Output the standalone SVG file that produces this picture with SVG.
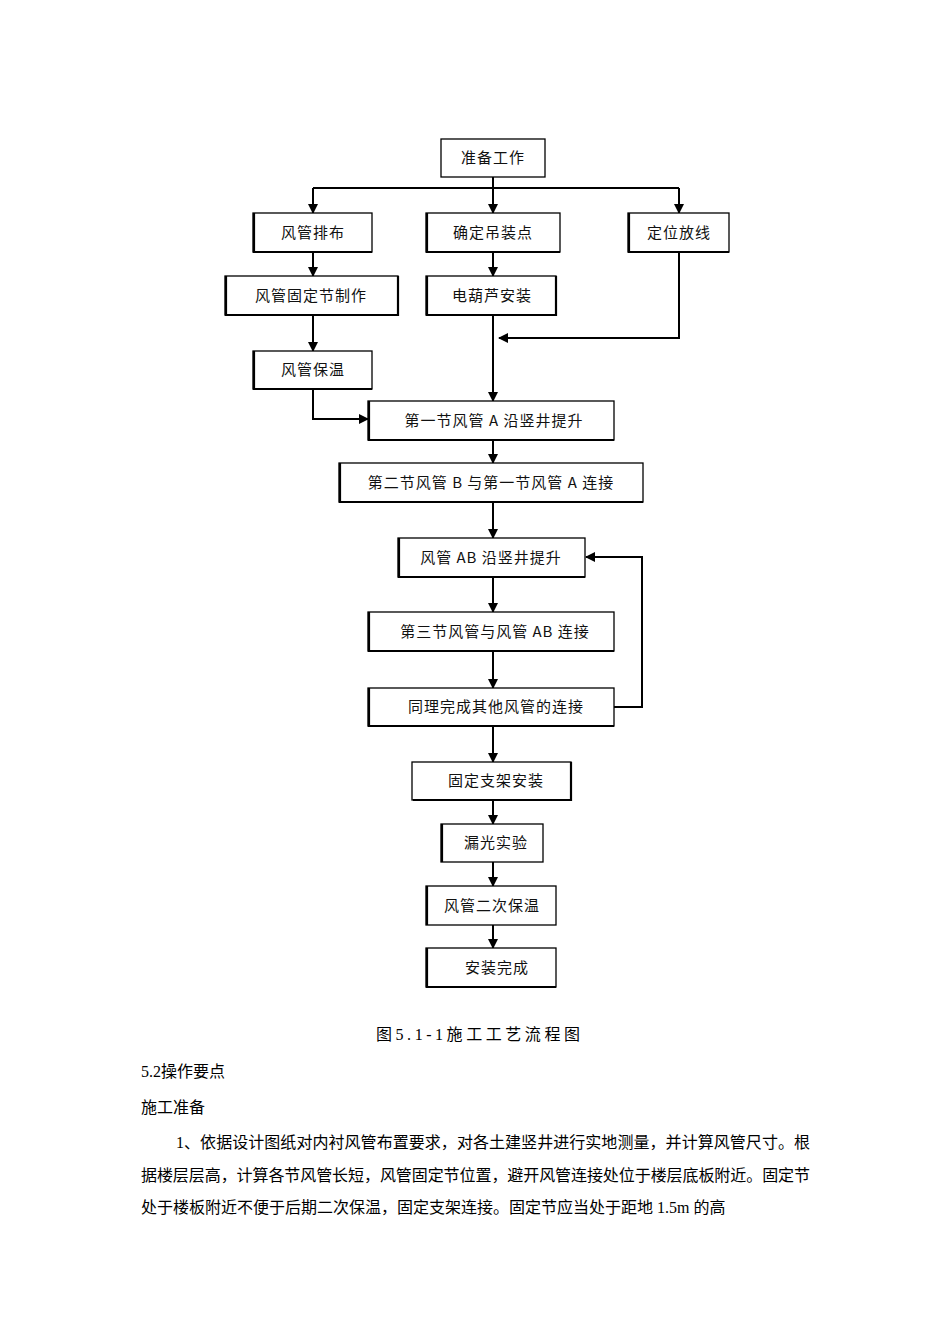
<svg xmlns="http://www.w3.org/2000/svg" width="950" height="1344" viewBox="0 0 950 1344">
<defs>
<style>
.b{fill:#fff;stroke:#000;stroke-width:1.3}
.s{fill:none;stroke:#000;stroke-width:2.2}
.t{font-family:"Noto Sans CJK SC","Noto Sans CJK JP",sans-serif;font-size:15px;text-anchor:middle;fill:#111;letter-spacing:1px}
.c{fill:none;stroke:#000;stroke-width:2}
.p{font-family:"Liberation Serif","Noto Sans CJK SC",serif;font-size:16px;fill:#000}
</style>
<marker id="a" viewBox="0 0 10 10" refX="9" refY="5" markerWidth="5" markerHeight="5" orient="auto"><path d="M0,0L10,5L0,10z" fill="#000"/></marker>
</defs>
<g id="connectors">
<path class="c" d="M493,177V188M313,188H679"/>
<path class="c" marker-end="url(#a)" d="M313,188V213"/>
<path class="c" marker-end="url(#a)" d="M493,188V213"/>
<path class="c" marker-end="url(#a)" d="M679,188V213"/>
<path class="c" marker-end="url(#a)" d="M313,252V276"/>
<path class="c" marker-end="url(#a)" d="M493,252V276"/>
<path class="c" marker-end="url(#a)" d="M313,315V351"/>
<path class="c" marker-end="url(#a)" d="M679,252V338H499"/>
<path class="c" marker-end="url(#a)" d="M493,315V401"/>
<path class="c" marker-end="url(#a)" d="M313,389V419H368"/>
<path class="c" marker-end="url(#a)" d="M493,440V463"/>
<path class="c" marker-end="url(#a)" d="M493,502V538"/>
<path class="c" marker-end="url(#a)" d="M493,577V612"/>
<path class="c" marker-end="url(#a)" d="M493,651V688"/>
<path class="c" marker-end="url(#a)" d="M614,707H642V557H586"/>
<path class="c" marker-end="url(#a)" d="M493,726V762"/>
<path class="c" marker-end="url(#a)" d="M493,800V824"/>
<path class="c" marker-end="url(#a)" d="M493,862V886"/>
<path class="c" marker-end="url(#a)" d="M493,925V948"/>
</g>
<g id="n1"><rect class="b" x="441" y="139" width="104" height="38"/><text class="t" x="493" y="163">准备工作</text></g>
<g id="n2"><rect class="b" x="253" y="213" width="119" height="39"/><path class="s" d="M254,213V252H372"/><text class="t" x="313" y="238">风管排布</text></g>
<g id="n3"><rect class="b" x="426" y="213" width="134" height="39"/><path class="s" d="M427,213V252H560"/><text class="t" x="493" y="238">确定吊装点</text></g>
<g id="n4"><rect class="b" x="628" y="213" width="101" height="39"/><path class="s" d="M629,213V252H729"/><text class="t" x="679" y="238">定位放线</text></g>
<g id="n5"><rect class="b" x="225" y="276" width="173" height="39"/><path class="s" d="M226,276V315H398V276"/><text class="t" x="311" y="301">风管固定节制作</text></g>
<g id="n6"><rect class="b" x="426" y="276" width="130" height="39"/><path class="s" d="M427,276V315H556V276"/><text class="t" x="492" y="301">电葫芦安装</text></g>
<g id="n7"><rect class="b" x="253" y="351" width="119" height="38"/><path class="s" d="M254,351V389H372"/><text class="t" x="313" y="375">风管保温</text></g>
<g id="n8"><rect class="b" x="368" y="401" width="246" height="39"/><path class="s" d="M369,401V440H614"/><text class="t" x="494" y="426">第一节风管 A 沿竖井提升</text></g>
<g id="n9"><rect class="b" x="339" y="463" width="304" height="39"/><path class="s" d="M340,463V502H643"/><text class="t" x="491" y="488">第二节风管 B 与第一节风管 A 连接</text></g>
<g id="n10"><rect class="b" x="398" y="538" width="187" height="39"/><path class="s" d="M399,538V577H585"/><text class="t" x="491" y="563">风管 AB 沿竖井提升</text></g>
<g id="n11"><rect class="b" x="368" y="612" width="246" height="39"/><path class="s" d="M369,612V651H614"/><text class="t" x="495" y="637">第三节风管与风管 AB 连接</text></g>
<g id="n12"><rect class="b" x="368" y="688" width="246" height="38"/><path class="s" d="M369,688V726H614"/><text class="t" x="496" y="712">同理完成其他风管的连接</text></g>
<g id="n13"><rect class="b" x="412" y="762" width="159" height="38"/><path class="s" d="M413,800H571V762"/><text class="t" x="496" y="786">固定支架安装</text></g>
<g id="n14"><rect class="b" x="441" y="824" width="102" height="38"/><path class="s" d="M442,824V862"/><text class="t" x="496" y="848">漏光实验</text></g>
<g id="n15"><rect class="b" x="426" y="886" width="130" height="39"/><path class="s" d="M427,886V925"/><text class="t" x="492" y="911">风管二次保温</text></g>
<g id="n16"><rect class="b" x="426" y="948" width="130" height="39"/><path class="s" d="M427,948V987H556"/><text class="t" x="497" y="973">安装完成</text></g>
<text class="p" x="376" y="1040" font-size="18" textLength="204" lengthAdjust="spacing">图5.1-1施工工艺流程图</text>
<text class="p" x="141" y="1077" font-size="18">5.2操作要点</text>
<text class="p" x="141" y="1113" font-size="18">施工准备</text>
<text class="p" x="176" y="1148" textLength="634" lengthAdjust="spacing">1、依据设计图纸对内衬风管布置要求，对各土建竖井进行实地测量，并计算风管尺寸。根</text>
<text class="p" x="141" y="1181" textLength="669" lengthAdjust="spacing">据楼层层高，计算各节风管长短，风管固定节位置，避开风管连接处位于楼层底板附近。固定节</text>
<text class="p" x="141" y="1213">处于楼板附近不便于后期二次保温，固定支架连接。固定节应当处于距地 1.5m 的高</text>
</svg>
